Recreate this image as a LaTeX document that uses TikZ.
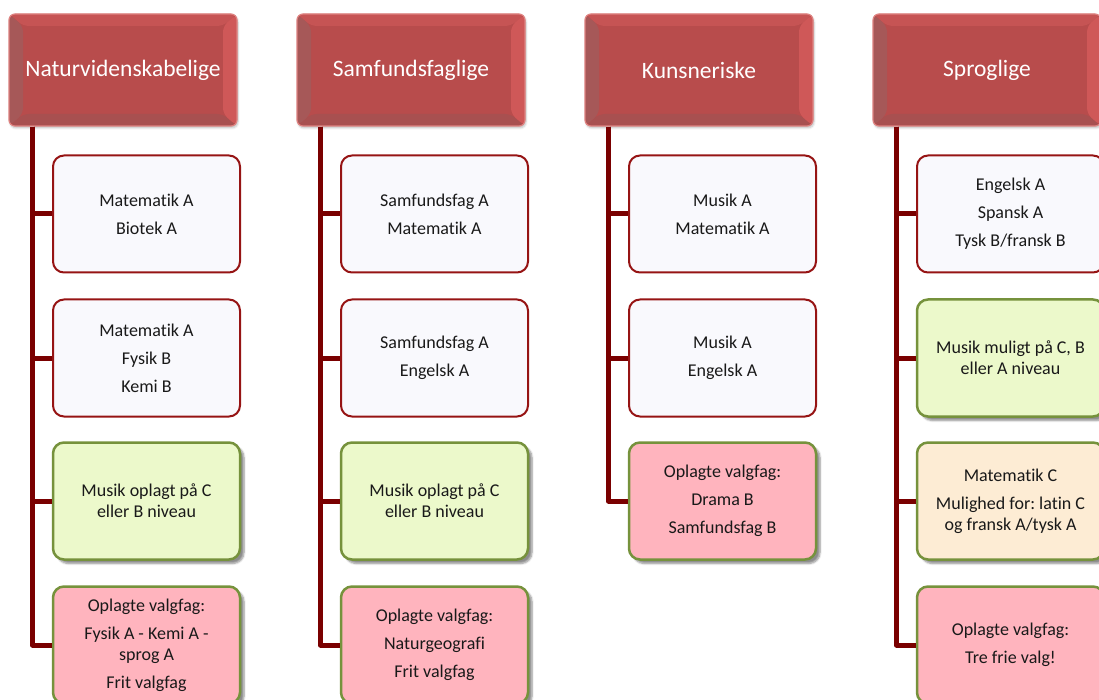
\documentclass[tikz,border=0pt]{standalone}
\usepackage{fontspec}
\setmainfont{Carlito}[RawFeature={-liga;-clig}]
\usetikzlibrary{shadows.blur}
\definecolor{hdred}{RGB}{184,76,76}
\definecolor{hdtop}{RGB}{198,84,84}
\definecolor{hdright}{RGB}{207,88,88}
\definecolor{hdleft}{RGB}{166,88,88}
\definecolor{hdbottom}{RGB}{168,80,80}
\definecolor{hdline}{RGB}{222,130,128}
\definecolor{trunk}{RGB}{122,0,0}
\definecolor{boxred}{RGB}{150,20,20}
\definecolor{boxwhite}{RGB}{249,249,253}
\definecolor{olive}{RGB}{118,146,60}
\definecolor{lime}{RGB}{236,249,203}
\definecolor{peach}{RGB}{253,236,212}
\definecolor{rosa}{RGB}{255,180,190}
\definecolor{txt}{RGB}{25,25,25}

\begin{document}
\begin{tikzpicture}[x=1pt,y=-1pt,
	head/.style={rectangle, rounded corners=6pt, draw=hdline, line width=1.2pt, fill=hdred,
		minimum width=228pt, minimum height=112pt, text=white, font=\fontsize{23.5}{28}\selectfont,
		blur shadow={shadow xshift=1pt, shadow yshift=-2pt, shadow blur steps=5, shadow opacity=25},
		path picture={
			\fill[hdtop] (path picture bounding box.north west) -- (path picture bounding box.north east)
				-- ([shift={(-14pt,-12pt)}]path picture bounding box.north east) -- ([shift={(14pt,-12pt)}]path picture bounding box.north west) -- cycle;
			\fill[hdbottom] (path picture bounding box.south west) -- (path picture bounding box.south east)
				-- ([shift={(-14pt,12pt)}]path picture bounding box.south east) -- ([shift={(14pt,12pt)}]path picture bounding box.south west) -- cycle;
			\fill[hdleft] (path picture bounding box.north west) -- ([shift={(14pt,-12pt)}]path picture bounding box.north west)
				-- ([shift={(14pt,12pt)}]path picture bounding box.south west) -- (path picture bounding box.south west) -- cycle;
			\fill[hdright] (path picture bounding box.north east) -- ([shift={(-14pt,-12pt)}]path picture bounding box.north east)
				-- ([shift={(-14pt,12pt)}]path picture bounding box.south east) -- (path picture bounding box.south east) -- cycle;
		}},
	sub/.style={rectangle, rounded corners=11pt, line width=2pt, minimum width=187pt, minimum height=117pt,
		align=center, text=txt, font=\fontsize{18}{21}\selectfont\frenchspacing},
	whitebox/.style={sub, draw=boxred, fill=boxwhite},
	colbox/.style={sub, draw=olive, line width=2.5pt,
		blur shadow={shadow xshift=4pt, shadow yshift=-4pt, shadow blur steps=6, shadow opacity=45}},
	limebox/.style={colbox, fill=lime},
	peachbox/.style={colbox, fill=peach},
	pinkbox/.style={colbox, fill=rosa},
	stem/.style={draw=trunk, line width=5pt, line join=round}]
	\useasboundingbox (0,0) rectangle (1099,700);

	\node[head] (nat) at (123,70) {Naturvidenskabelige};
	\node[head] (sam) at (411,70) {Samfundsfaglige};
	\node[head] (kun) at (699,70) {Kunsneriske};
	\node[head] (spr) at (987,70) {Sproglige};

	\node[whitebox] (nat1) at (146.5,214) {Matematik A\\[7pt]Biotek A};
	\node[whitebox] (nat2) at (146.5,358) {Matematik A\\[7pt]Fysik B\\[7pt]Kemi B};
	\node[limebox] (nat3) at (146.5,501) {Musik oplagt på C\\eller B niveau};
	\node[pinkbox] (nat4) at (146.5,645) {Oplagte valgfag:\\[7pt]Fysik A - Kemi A -\\sprog A\\[7pt]Frit valgfag};

	\node[whitebox] (sam1) at (434.5,214) {Samfundsfag A\\[7pt]Matematik A};
	\node[whitebox] (sam2) at (434.5,358) {Samfundsfag A\\[7pt]Engelsk A};
	\node[limebox] (sam3) at (434.5,501) {Musik oplagt på C\\eller B niveau};
	\node[pinkbox] (sam4) at (434.5,645) {Oplagte valgfag:\\[7pt]Naturgeografi\\[7pt]Frit valgfag};

	\node[whitebox] (kun1) at (722.5,214) {Musik A\\[7pt]Matematik A};
	\node[whitebox] (kun2) at (722.5,358) {Musik A\\[7pt]Engelsk A};
	\node[pinkbox] (kun3) at (722.5,501) {Oplagte valgfag:\\[7pt]Drama B\\[7pt]Samfundsfag B};

	\node[whitebox] (spr1) at (1010.5,214) {Engelsk A\\[7pt]Spansk A\\[7pt]Tysk B/fransk B};
	\node[limebox] (spr2) at (1010.5,358) {Musik muligt på C, B\\eller A niveau};
	\node[peachbox] (spr3) at (1010.5,501) {Matematik C\\[7pt]Mulighed for: latin C\\og fransk A/tysk A};
	\node[pinkbox] (spr4) at (1010.5,645) {Oplagte valgfag:\\[7pt]Tre frie valg!};

	% Naturvidenskabelige
	\draw[stem] ([xshift=24pt]nat.south west) |- (nat4.west);
	\draw[stem] ([xshift=24pt]nat.south west) |- (nat1.west);
	\draw[stem] ([xshift=24pt]nat.south west) |- (nat2.west);
	\draw[stem] ([xshift=24pt]nat.south west) |- (nat3.west);
	% Samfundsfaglige
	\draw[stem] ([xshift=24pt]sam.south west) |- (sam4.west);
	\draw[stem] ([xshift=24pt]sam.south west) |- (sam1.west);
	\draw[stem] ([xshift=24pt]sam.south west) |- (sam2.west);
	\draw[stem] ([xshift=24pt]sam.south west) |- (sam3.west);
	% Kunsneriske
	\draw[stem] ([xshift=24pt]kun.south west) |- (kun3.west);
	\draw[stem] ([xshift=24pt]kun.south west) |- (kun1.west);
	\draw[stem] ([xshift=24pt]kun.south west) |- (kun2.west);
	% Sproglige
	\draw[stem] ([xshift=24pt]spr.south west) |- (spr4.west);
	\draw[stem] ([xshift=24pt]spr.south west) |- (spr1.west);
	\draw[stem] ([xshift=24pt]spr.south west) |- (spr2.west);
	\draw[stem] ([xshift=24pt]spr.south west) |- (spr3.west);
\end{tikzpicture}
\end{document}
